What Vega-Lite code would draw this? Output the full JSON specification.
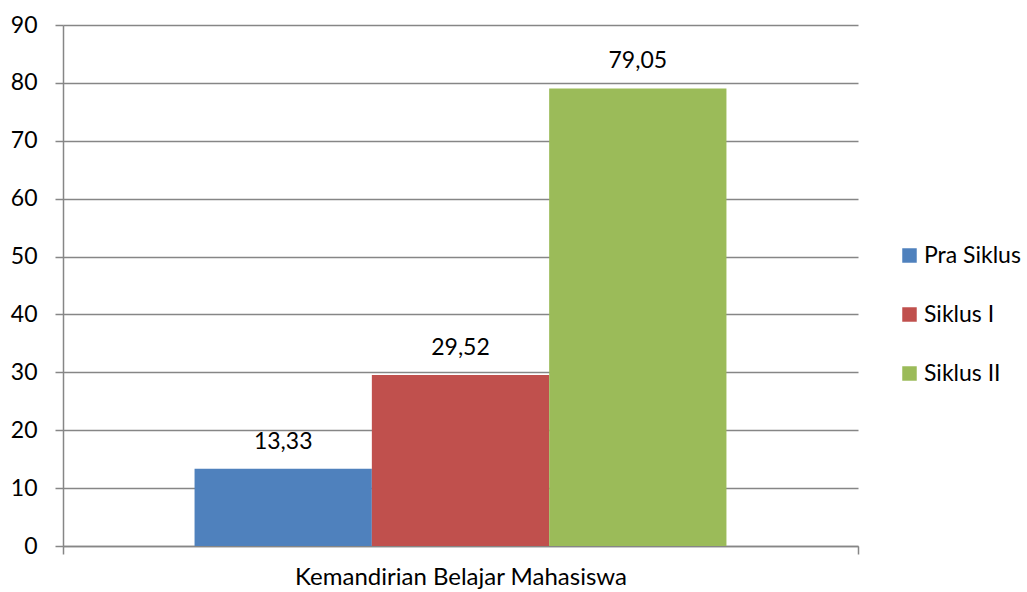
{
  "$schema": "https://vega.github.io/schema/vega-lite/v6.json",
  "width": 795,
  "height": 521,
  "autosize": {"type": "none"},
  "padding": {"left": 63, "top": 25, "right": 169, "bottom": 46},
  "background": "white",
  "config": {"view": {"stroke": null}, "font": "Lato"},
  "data": {
    "values": [
      {"kategori": "Kemandirian Belajar Mahasiswa", "seri": "Pra Siklus", "nilai": 13.33, "label": "13,33"},
      {"kategori": "Kemandirian Belajar Mahasiswa", "seri": "Siklus I", "nilai": 29.52, "label": "29,52"},
      {"kategori": "Kemandirian Belajar Mahasiswa", "seri": "Siklus II", "nilai": 79.05, "label": "79,05"}
    ]
  },
  "encoding": {
    "x": {
      "field": "kategori",
      "type": "nominal",
      "scale": {"paddingInner": 0, "paddingOuter": 0},
      "axis": {
        "title": null,
        "labelAngle": 0,
        "labelLimit": 0,
        "tickBand": "extent",
        "domainColor": "#868686",
        "domainWidth": 1.5,
        "tickColor": "#868686",
        "tickWidth": 1.5,
        "tickSize": 8,
        "labelFontSize": 24,
        "labelFont": "Lato",
        "labelColor": "black",
        "labelPadding": 11
      }
    },
    "xOffset": {
      "field": "seri",
      "type": "nominal",
      "sort": ["Pra Siklus", "Siklus I", "Siklus II"],
      "scale": {"paddingInner": 0, "paddingOuter": 0.742}
    },
    "y": {
      "field": "nilai",
      "type": "quantitative",
      "scale": {"domain": [0, 90], "nice": false},
      "axis": {
        "title": null,
        "values": [0, 10, 20, 30, 40, 50, 60, 70, 80, 90],
        "grid": true,
        "gridColor": "#868686",
        "gridWidth": 1.5,
        "domainColor": "#868686",
        "domainWidth": 1.5,
        "tickColor": "#868686",
        "tickWidth": 1.5,
        "tickSize": 8,
        "labelFontSize": 23,
        "labelFont": "Lato",
        "labelColor": "black",
        "labelPadding": 18
      }
    }
  },
  "layer": [
    {
      "mark": {"type": "bar"},
      "encoding": {
        "color": {
          "field": "seri",
          "type": "nominal",
          "sort": ["Pra Siklus", "Siklus I", "Siklus II"],
          "scale": {"domain": ["Pra Siklus", "Siklus I", "Siklus II"], "range": ["#4F81BD", "#C0504D", "#9BBB59"]},
          "legend": {
            "title": null,
            "orient": "none",
            "legendX": 835,
            "legendY": 219,
            "symbolType": "square",
            "symbolSize": 210,
            "symbolStrokeWidth": 0,
            "symbolOpacity": 1,
            "labelFontSize": 23,
            "labelFont": "Lato",
            "labelColor": "black",
            "labelOffset": 3,
            "labelLimit": 0,
            "rowPadding": 35
          }
        }
      }
    },
    {
      "mark": {"type": "text", "dy": -20, "baseline": "alphabetic", "fontSize": 23, "font": "Lato", "color": "black"},
      "encoding": {"text": {"field": "label"}}
    }
  ]
}
